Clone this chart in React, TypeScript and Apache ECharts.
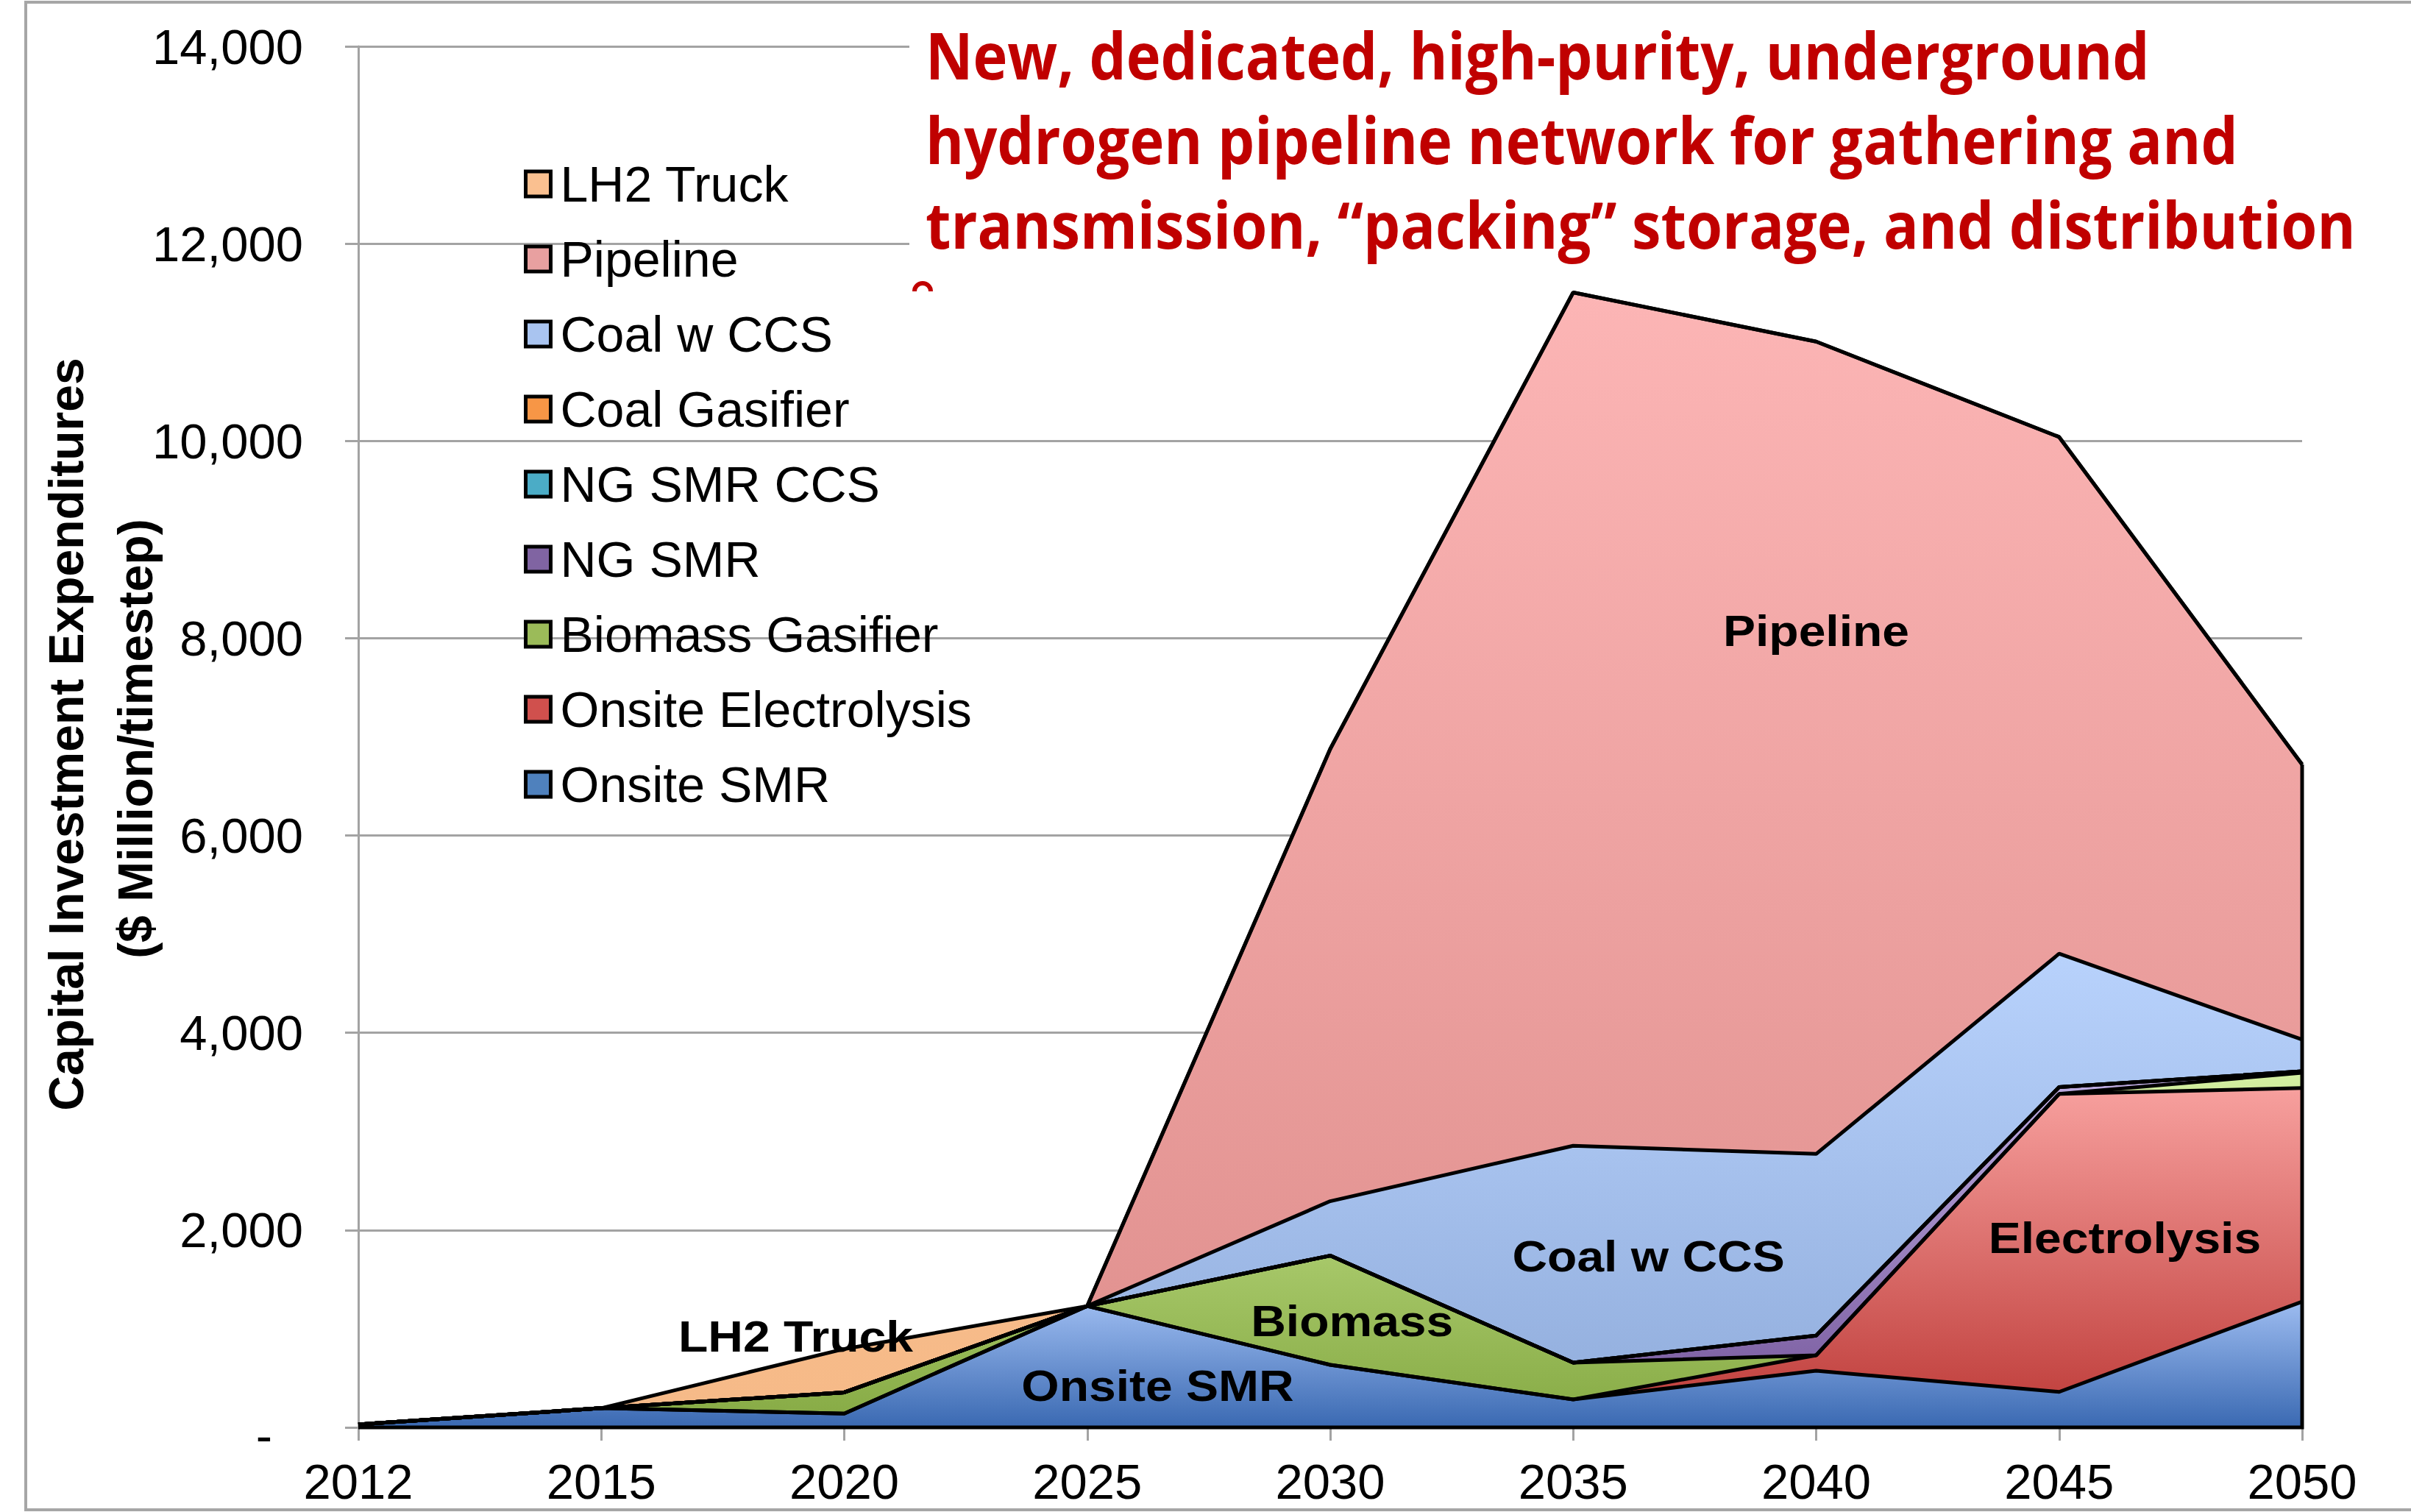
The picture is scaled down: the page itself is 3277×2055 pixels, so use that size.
import React, { useEffect, useRef } from "react";
import * as echarts from "echarts";

// ---------- DATA ----------
const years = ["2012", "2015", "2020", "2025", "2030", "2035", "2040", "2045", "2050"];

const onsiteSMR = [30, 195, 140, 1230, 634, 283, 574, 360, 1275];
const onsiteElectrolysis = [0, 0, 0, 0, 0, 0, 157, 3020, 2165];
const biomassGasifier = [0, 0, 215, 0, 1107, 373, 0, 0, 155];
const ngSMR = [0, 0, 0, 0, 0, 0, 200, 70, 15];
const ngSMRCCS = [0, 0, 0, 0, 0, 0, 0, 0, 0];
const coalGasifier = [0, 0, 0, 0, 0, 0, 0, 0, 0];
const coalWithCCS = [0, 0, 0, 0, 552, 2199, 1841, 1352, 321];
const pipeline = [0, 0, 0, 0, 4584, 8650, 8235, 5238, 2789];
const lh2Truck = [0, 0, 440, 0, 0, 0, 0, 0, 0];

// stacking order, bottom to top
const seriesNames = [
  "Onsite SMR",
  "Onsite Electrolysis",
  "Biomass Gasifier",
  "NG SMR",
  "NG SMR CCS",
  "Coal Gasifier",
  "Coal w CCS",
  "Pipeline",
  "LH2 Truck",
];
const seriesValues = [
  onsiteSMR,
  onsiteElectrolysis,
  biomassGasifier,
  ngSMR,
  ngSMRCCS,
  coalGasifier,
  coalWithCCS,
  pipeline,
  lh2Truck,
];
const legendOrder = [...seriesNames].reverse();

// in-chart area labels: [category position (index), value]
const areaLabels = ["Pipeline", "Coal w CCS", "Electrolysis", "Biomass", "Onsite SMR", "LH2 Truck"];
const areaLabelX = [6.0, 5.31, 7.27, 4.09, 3.29, 1.8];
const areaLabelY = [8080, 1740, 1925, 1080, 425, 925];

const annotationLines = [
  "New, dedicated, high-purity, underground",
  "hydrogen pipeline network for gathering and",
  "transmission, \u201cpacking\u201d storage, and distribution",
];
const yTitleLines = ["Capital Investment Expenditures", "($ Million/timestep)"];

// ---------- STYLES ----------
const FONT = "'Liberation Sans', Arial, sans-serif";
const GRID_COLOR = "#A3A3A3";

const legendColors: Record<string, string> = {
  "LH2 Truck": "#FAC090",
  Pipeline: "#E8A0A0",
  "Coal w CCS": "#A9C4F0",
  "Coal Gasifier": "#F79646",
  "NG SMR CCS": "#4BACC6",
  "NG SMR": "#8064A2",
  "Biomass Gasifier": "#9BBB59",
  "Onsite Electrolysis": "#D0504D",
  "Onsite SMR": "#4F81BD",
};

const areaFills: Record<string, [number, string][]> = {
  "Onsite SMR": [[0, "#9DBCF0"], [1, "#3A69B2"]],
  "Onsite Electrolysis": [[0, "#F7A09E"], [1, "#BD3A37"]],
  "Biomass Gasifier": [[0, "#D4F0A2"], [0.55, "#A5C667"], [1, "#86AA44"]],
  "NG SMR": [[0, "#BFAEE2"], [1, "#735499"]],
  "NG SMR CCS": [[0, "#7DD0E6"], [1, "#3A9AB4"]],
  "Coal Gasifier": [[0, "#FBB47A"], [1, "#E9822E"]],
  "Coal w CCS": [[0, "#B8D2FC"], [1, "#90ACDB"]],
  Pipeline: [[0, "#FCB5B5"], [1, "#DF8F8D"]],
  "LH2 Truck": [[0, "#FAC396"], [1, "#F6BA88"]],
};

export default function App() {
  const ref = useRef<HTMLDivElement>(null);

  useEffect(() => {
    if (!ref.current) return;
    const chart = echarts.init(ref.current, null, { renderer: "svg" });

    const grad = (stops: [number, string][]) =>
      new echarts.graphic.LinearGradient(
        0,
        0,
        0,
        1,
        stops.map(([offset, color]) => ({ offset, color }))
      );

    const areaSeries = seriesNames.map((name, i) => ({
      name,
      type: "line",
      stack: "total",
      data: seriesValues[i],
      symbol: "none",
      showSymbol: false,
      silent: true,
      z: 2,
      itemStyle: { color: legendColors[name] },
      lineStyle: { width: 0, opacity: 0 },
      areaStyle: { color: grad(areaFills[name]), opacity: 1 },
    }));

    const outlineSeries = seriesNames.map((name, i) => ({
      name: name + " outline",
      type: "line",
      stack: "outline",
      data: seriesValues[i],
      symbol: "none",
      showSymbol: false,
      silent: true,
      z: 3,
      lineStyle: { width: 5, color: "#000" },
    }));

    const axisLineStyle = { color: GRID_COLOR, width: 3 };

    chart.setOption({
      animation: false,
      backgroundColor: "#FFFFFF",
      grid: { left: 487, right: 148, top: 63, bottom: 115, containLabel: false },
      legend: {
        orient: "vertical",
        left: 707,
        top: 205,
        itemWidth: 34,
        itemHeight: 34,
        itemGap: 22,
        icon: "rect",
        selectedMode: false,
        itemStyle: { borderColor: "#000", borderWidth: 5 },
        textStyle: {
          fontSize: 68,
          fontFamily: FONT,
          color: "#000",
          lineHeight: 80,
          padding: [0, 0, 0, 8],
        },
        data: legendOrder.map((n) => ({ name: n, itemStyle: { color: legendColors[n] } })),
      },
      xAxis: {
        type: "category",
        data: years,
        boundaryGap: false,
        axisLine: { show: true, lineStyle: axisLineStyle },
        axisTick: { show: true, length: 18, lineStyle: axisLineStyle },
        axisLabel: { fontSize: 67, color: "#000", fontFamily: FONT, margin: 40 },
        splitLine: { show: false },
      },
      yAxis: {
        type: "value",
        min: 0,
        max: 14000,
        interval: 2000,
        axisLine: { show: true, lineStyle: axisLineStyle },
        axisTick: { show: true, length: 18, lineStyle: axisLineStyle },
        splitLine: { show: true, lineStyle: { color: GRID_COLOR, width: 3 } },
        axisLabel: {
          fontSize: 67,
          color: "#000",
          fontFamily: FONT,
          margin: 75,
          formatter: (v: number) => (v === 0 ? "{z|-}" : v.toLocaleString("en-US")),
          rich: { z: { fontSize: 67, fontFamily: FONT, color: "#000", padding: [20, 42, 0, 0] } },
        },
      },
      series: [...areaSeries, ...outlineSeries],
    });

    // helpers to place annotations through the axes
    const toPx = (xi: number, v: number) => {
      const i0 = Math.max(0, Math.min(years.length - 1, Math.floor(xi)));
      const i1 = Math.min(i0 + 1, years.length - 1);
      const p0 = chart.convertToPixel({ xAxisIndex: 0, yAxisIndex: 0 }, [years[i0], v]) as number[];
      const p1 = chart.convertToPixel({ xAxisIndex: 0, yAxisIndex: 0 }, [years[i1], v]) as number[];
      const t = xi - i0;
      return [p0[0] + (p1[0] - p0[0]) * t, p0[1]];
    };

    const last = years.length - 1;
    const total2050 = seriesValues.reduce((s, arr) => s + arr[last], 0);
    const outlinePts = [toPx(0, 0), toPx(last, 0), toPx(last, total2050)];

    const labelEls = areaLabels.map((t, i) => {
      const [x, y] = toPx(areaLabelX[i], areaLabelY[i]);
      return {
        type: "text",
        x,
        y,
        scaleX: 1.1,
        z: 50,
        silent: true,
        style: {
          text: t,
          fontSize: 60,
          fontWeight: "bold",
          fontFamily: FONT,
          fill: "#000",
          textAlign: "center",
          textVerticalAlign: "middle",
          align: "center",
          verticalAlign: "middle",
        },
      };
    });

    // annotation (narrow bold look via horizontal scaling)
    const annFont = "bold 87px 'Open Sans'";
    const ctx = document.createElement("canvas").getContext("2d");
    let scaleX = 0.75;
    if (ctx) {
      ctx.font = annFont;
      const w = ctx.measureText(annotationLines[2]).width;
      if (w > 0) scaleX = 1944 / w;
    }
    const annYs = [74, 189, 304];
    const annEls = annotationLines.map((t, i) => ({
      type: "text",
      x: 1258,
      y: annYs[i],
      scaleX,
      z: 60,
      silent: true,
      style: {
        text: t,
        fontSize: 87,
        fontWeight: "bold",
        fontFamily: "'Open Sans', 'Noto Sans', sans-serif",
        fill: "#C00000",
        textAlign: "left",
        textVerticalAlign: "middle",
        align: "left",
        verticalAlign: "middle",
      },
    }));

    const yTitleX = [90, 184];
    const yTitleY = [998, 1004];
    const yTitleEls = yTitleLines.map((t, i) => ({
      type: "text",
      x: yTitleX[i],
      y: yTitleY[i],
      rotation: Math.PI / 2,
      z: 60,
      silent: true,
      style: {
        text: t,
        fontSize: 66,
        fontWeight: "bold",
        fontFamily: FONT,
        fill: "#000",
        textAlign: "center",
        textVerticalAlign: "middle",
        align: "center",
        verticalAlign: "middle",
      },
    }));

    chart.setOption({
      graphic: {
        elements: [
          {
            type: "rect",
            z: 0,
            silent: true,
            shape: { x: 35, y: 3, width: 3300, height: 2049 },
            style: { fill: "none", stroke: "#A6A6A6", lineWidth: 4 },
          },
          {
            type: "rect",
            z: 1,
            silent: true,
            shape: { x: 1236, y: 18, width: 2030, height: 348 },
            style: { fill: "#FFFFFF" },
          },
          {
            type: "arc",
            z: 60,
            silent: true,
            shape: { cx: 1254, cy: 396, r: 11, startAngle: Math.PI, endAngle: Math.PI * 2 },
            style: { stroke: "#C00000", lineWidth: 6, fill: "none" },
          },
          {
            type: "polyline",
            z: 40,
            silent: true,
            shape: { points: outlinePts },
            style: { stroke: "#000", lineWidth: 5, fill: "none" },
          },
          ...labelEls,
          ...annEls,
          ...yTitleEls,
        ],
      },
    });

    return () => {
      chart.dispose();
    };
  }, []);

  return (
    <div
      ref={ref}
      style={{ position: "fixed", left: 0, top: 0, width: 3277, height: 2055, background: "#fff" }}
    />
  );
}
